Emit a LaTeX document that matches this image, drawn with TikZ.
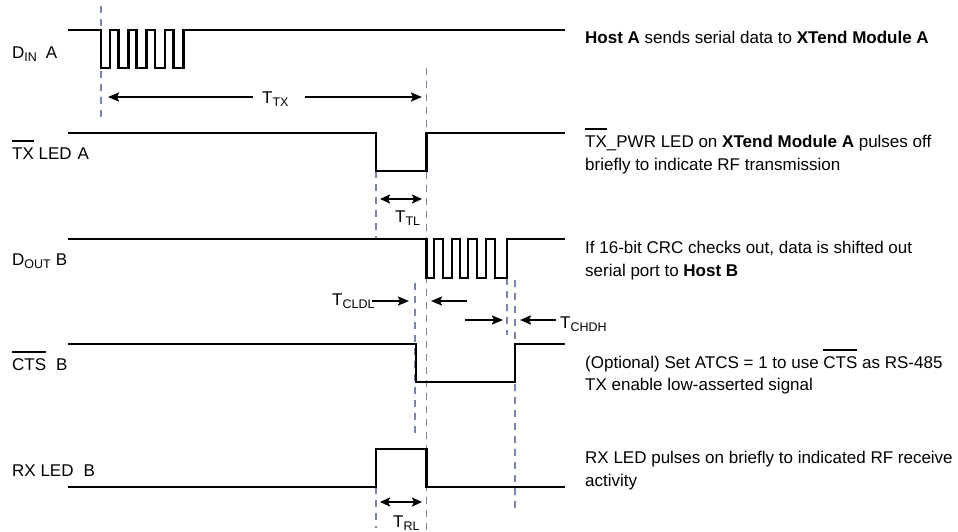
\documentclass[tikz,border=0pt]{standalone}
\usepackage{fontspec}
\setmainfont{Liberation Sans}
\usetikzlibrary{arrows.meta}
\newcommand\ovl[1]{\setbox0=\hbox{#1}\rlap{\raisebox{17.5pt}{\rule{\wd0}{1.3pt}}}\box0\relax}
\newcommand\subt[1]{\raisebox{-3pt}{\fontsize{12.5}{13}\selectfont #1}}
\definecolor{dashblue}{RGB}{120,134,172}
\tikzset{
  sig/.style={line width=2.5pt, line join=miter, black},
  guide/.style={dashblue, line width=1.8pt, dash pattern=on 7pt off 6pt},
  dim/.style={line width=2pt, -{Stealth[length=11pt,width=9pt,inset=2pt]}},
  dimboth/.style={line width=2pt, {Stealth[length=10pt,width=9pt,inset=2pt]}-{Stealth[length=10pt,width=9pt,inset=2pt]}},
  txt/.style={anchor=base west, inner sep=0pt, font=\fontsize{17}{20}\selectfont},
}
\begin{document}
\begin{tikzpicture}[x=1pt,y=-1pt]
\useasboundingbox (0,0) rectangle (958,531);
% guide lines
\draw[guide] (101,6) -- (101,123);
\draw[guide] (426.5,68) -- (426.5,530);
\draw[guide] (376,171) -- (376,239);
\draw[guide] (376,487) -- (376,528);
\draw[guide] (415,283) -- (415,436);
\draw[guide] (507,239) -- (507,335);
\draw[guide] (515,280) -- (515,510);
% signals
\draw[sig] (68,30) -- (101,30) -- (101,68) -- (110,68) -- (110,30) -- (118.3,30) -- (118.3,68) -- (128.3,68) -- (128.3,30) -- (136.7,30) -- (136.7,68) -- (146.7,68) -- (146.7,30) -- (155,30) -- (155,68) -- (165,68) -- (165,30) -- (173.3,30) -- (173.3,68) -- (183.3,68) -- (183.3,30) -- (565,30);
\draw[sig] (68,133) -- (376,133) -- (376,171) -- (426.5,171) -- (426.5,133) -- (565,133);
\draw[sig] (68,239) -- (426.5,239) -- (426.5,278) -- (434,278) -- (434,239) -- (443,239) -- (443,278) -- (452,278) -- (452,239) -- (460,239) -- (460,278) -- (468,278) -- (468,239) -- (477,239) -- (477,278) -- (486,278) -- (486,239) -- (495,239) -- (495,278) -- (507,278) -- (507,239) -- (565,239);
\draw[sig] (68,344) -- (416,344) -- (416,382) -- (515,382) -- (515,344) -- (565,344);
\draw[sig] (68,487) -- (376,487) -- (376,449) -- (426.5,449) -- (426.5,487) -- (565,487);
% left labels
\node[txt] (lDin) at (12,58) {D\subt{IN}\hspace{9pt}A};
\node[txt] (lTx) at (12,159) {\ovl{TX} LED\hspace{6pt}A};
\node[txt] (lDout) at (12,265) {D\subt{OUT}\hspace{5pt}B};
\node[txt] (lCts) at (12,370) {\ovl{CTS}\hspace{10pt}B};
\node[txt] (lRx) at (12,476) {RX LED\hspace{10pt}B};
% timing dimensions
\coordinate (ttxL) at (108,97); \coordinate (ttxR) at (422,97);
\coordinate (ttxA) at (253,97); \coordinate (ttxB) at (305,97);
\draw[dim] (ttxA) -- (ttxL);
\draw[dim] (ttxB) -- (ttxR);
\node[txt] (ttx) at (262,103) {T\subt{TX}};
\coordinate (ttlL) at (380,199); \coordinate (ttlR) at (422,199);
\draw[dimboth] (ttlL) -- (ttlR);
\node[txt] (ttl) at (395,222) {T\subt{TL}};
\coordinate (cl1) at (372,301); \coordinate (cl2) at (409,301);
\coordinate (cl3) at (467,301); \coordinate (cl4) at (431,301);
\draw[dim] (cl1) -- (cl2);
\draw[dim] (cl3) -- (cl4);
\node[txt] (tcldl) at (332,305) {T\subt{CLDL}};
\coordinate (ch1) at (465,320); \coordinate (ch2) at (503,320);
\coordinate (ch3) at (556,320); \coordinate (ch4) at (520,320);
\draw[dim] (ch1) -- (ch2);
\draw[dim] (ch3) -- (ch4);
\node[txt] (tchdh) at (560,328) {T\subt{CHDH}};
\coordinate (trlL) at (380,502); \coordinate (trlR) at (422,502);
\draw[dimboth] (trlL) -- (trlR);
\node[txt] (trl) at (393,527) {T\subt{RL}};
% descriptions
\node[txt] (d1) at (585,43) {\textbf{Host A} sends serial data to \textbf{XTend Module A}};
\node[txt] (d2a) at (585,147) {\ovl{TX}\_PWR LED on \textbf{XTend Module A} pulses off};
\node[txt] (d2b) at (585,170) {briefly to indicate RF transmission};
\node[txt] (d3a) at (585,253) {If 16-bit CRC checks out, data is shifted out};
\node[txt] (d3b) at (585,276) {serial port to \textbf{Host B}};
\node[txt] (d4a) at (585,368) {(Optional) Set ATCS = 1 to use \ovl{CTS} as RS-485};
\node[txt] (d4b) at (585,390) {TX enable low-asserted signal};
\node[txt] (d5a) at (585,463) {RX LED pulses on briefly to indicated RF receive};
\node[txt] (d5b) at (585,486) {activity};
\end{tikzpicture}
\end{document}
